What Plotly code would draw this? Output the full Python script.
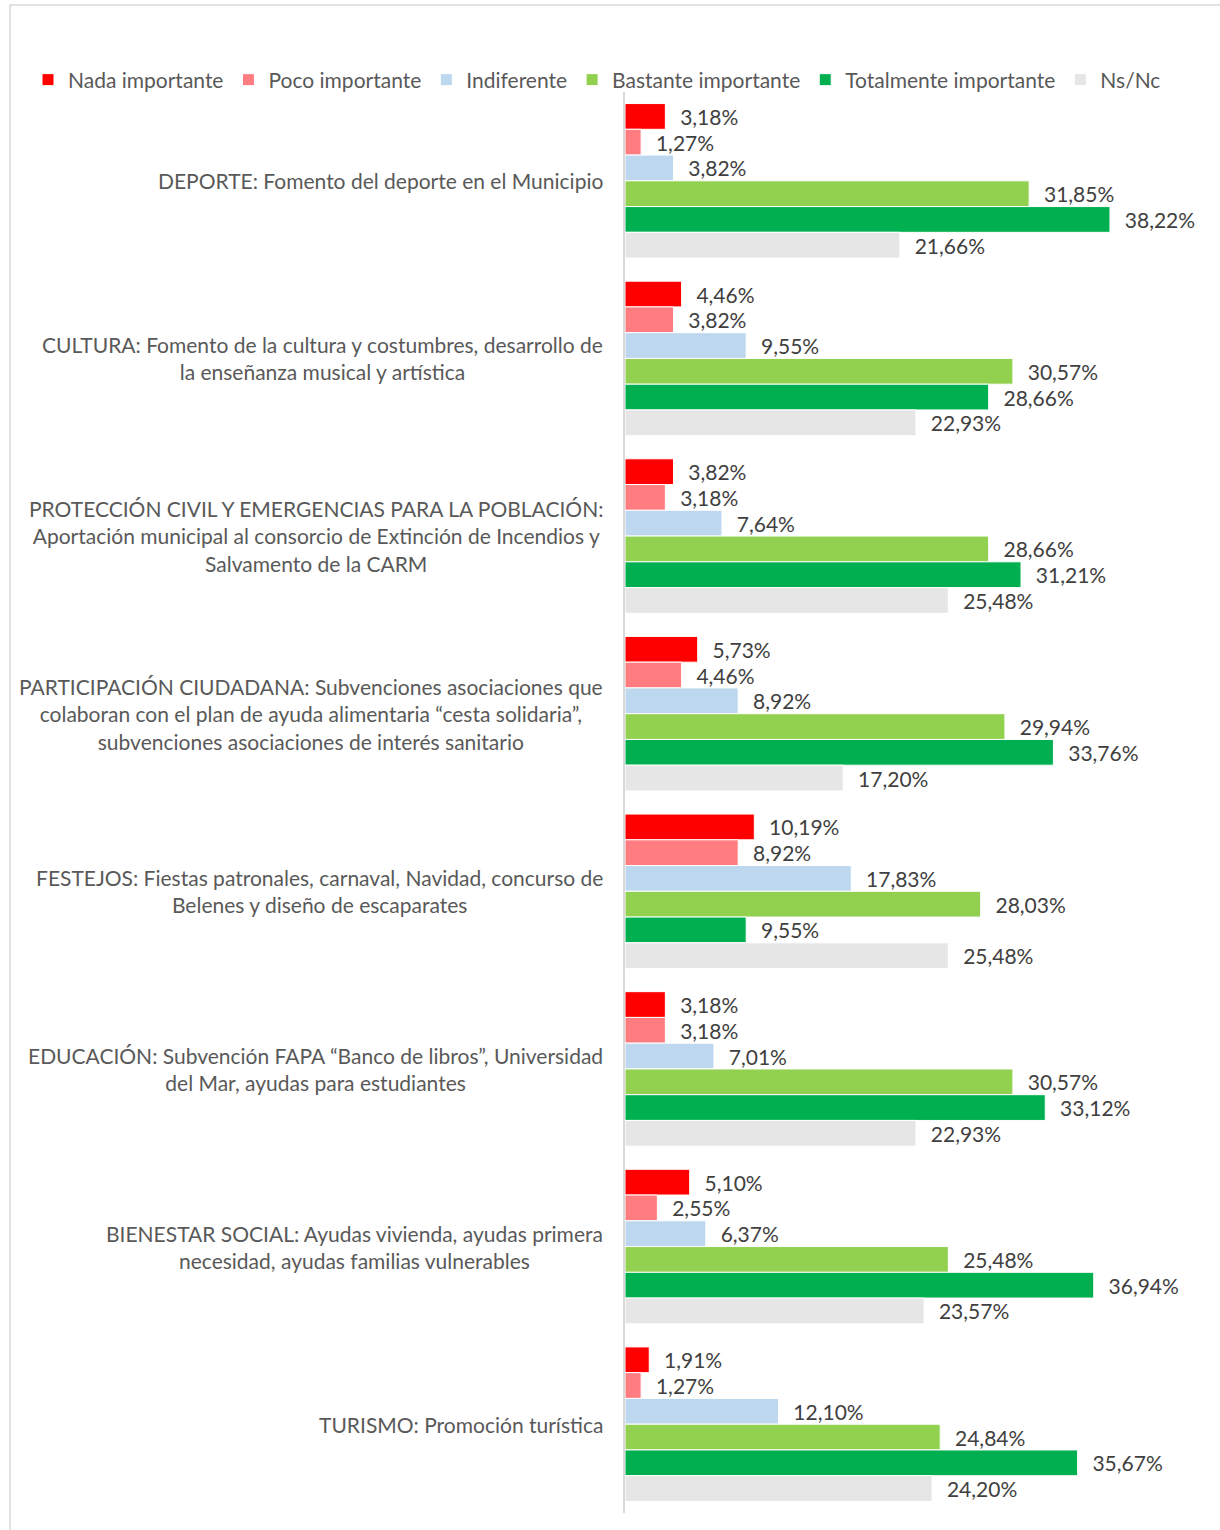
import plotly.graph_objects as go

categories = [
    "DEPORTE: Fomento del deporte en el Municipio",
    "CULTURA: Fomento de la cultura y costumbres, desarrollo de<br>la enseñanza musical y artística",
    "PROTECCIÓN CIVIL Y EMERGENCIAS PARA LA POBLACIÓN:<br>Aportación municipal al consorcio de Extinción de Incendios y<br>Salvamento de la CARM",
    "PARTICIPACIÓN CIUDADANA: Subvenciones asociaciones que<br>colaboran con el plan de ayuda alimentaria “cesta solidaria”,<br>subvenciones asociaciones de interés sanitario",
    "FESTEJOS: Fiestas patronales, carnaval, Navidad, concurso de<br>Belenes y diseño de escaparates",
    "EDUCACIÓN: Subvención FAPA “Banco de libros”, Universidad<br>del Mar, ayudas para estudiantes",
    "BIENESTAR SOCIAL: Ayudas vivienda, ayudas primera<br>necesidad, ayudas familias vulnerables",
    "TURISMO: Promoción turística",
]

series_names = ["Nada importante", "Poco importante", "Indiferente",
                "Bastante importante", "Totalmente importante", "Ns/Nc"]

nada = [3.18, 4.46, 3.82, 5.73, 10.19, 3.18, 5.10, 1.91]
poco = [1.27, 3.82, 3.18, 4.46, 8.92, 3.18, 2.55, 1.27]
indiferente = [3.82, 9.55, 7.64, 8.92, 17.83, 7.01, 6.37, 12.10]
bastante = [31.85, 30.57, 28.66, 29.94, 28.03, 30.57, 25.48, 24.84]
totalmente = [38.22, 28.66, 31.21, 33.76, 9.55, 33.12, 36.94, 35.67]
nsnc = [21.66, 22.93, 25.48, 17.20, 25.48, 22.93, 23.57, 24.20]

series_values = [nada, poco, indiferente, bastante, totalmente, nsnc]
colors = ["#FF0000", "#FF7C80", "#BDD7EE", "#92D050", "#00B050", "#E6E6E6"]

W, H = 1220, 1530
ML, MR, MT, MB = 625, 24, 92, 17
FONT = "Lato"
FS = 21

fig = go.Figure()
for name, vals, col in zip(series_names, series_values, colors):
    fig.add_trace(go.Bar(
        y=categories, x=vals, name=name, orientation="h",
        marker=dict(color=col, line=dict(color="white", width=1)),
        text=vals, texttemplate="\u2002\u200a%{x:.2f}%", textposition="outside",
        textfont=dict(family=FONT, size=FS, color="#404040"),
        constraintext="none", cliponaxis=False,
    ))

annotations = []
for c in categories:
    annotations.append(dict(
        x=0, xref="paper", y=c, yref="y", text=c, showarrow=False,
        xanchor="right", yanchor="middle", align="center", xshift=-20,
        font=dict(family=FONT, size=FS, color="#595959"),
    ))

pw = W - ML - MR
ph = H - MT - MB
fig.add_shape(type="rect", xref="paper", yref="paper",
              x0=(10 - ML) / pw, x1=(W + 5 - ML) / pw,
              y0=-(H + 5 - MT - ph) / ph, y1=1 + (MT - 5) / ph,
              line=dict(color="#D9D9D9", width=1.5), fillcolor="rgba(0,0,0,0)", layer="below")

fig.update_layout(
    width=W, height=H,
    margin=dict(l=ML, r=MR, t=MT, b=MB, autoexpand=False),
    barmode="group", bargap=0.13, bargroupgap=0,
    separators=",.",
    paper_bgcolor="white", plot_bgcolor="white",
    font=dict(family=FONT, size=FS, color="#595959"),
    showlegend=True,
    legend=dict(orientation="h", xref="paper", x=(28 - ML) / pw, xanchor="left",
                yref="paper", y=1 + (MT - 80) / ph, yanchor="middle",
                bgcolor="rgba(0,0,0,0)",
                font=dict(family=FONT, size=FS, color="#595959"),
                itemwidth=30, tracegroupgap=0, traceorder="normal"),
    xaxis=dict(range=[0, 45], showgrid=False, zeroline=False, showticklabels=False,
               showline=False, ticks=""),
    yaxis=dict(autorange="reversed", showticklabels=False, showline=True,
               linecolor="#D9D9D9", linewidth=1.5, ticks="", showgrid=False),
    annotations=annotations,
)

fig.write_html("out.html")
